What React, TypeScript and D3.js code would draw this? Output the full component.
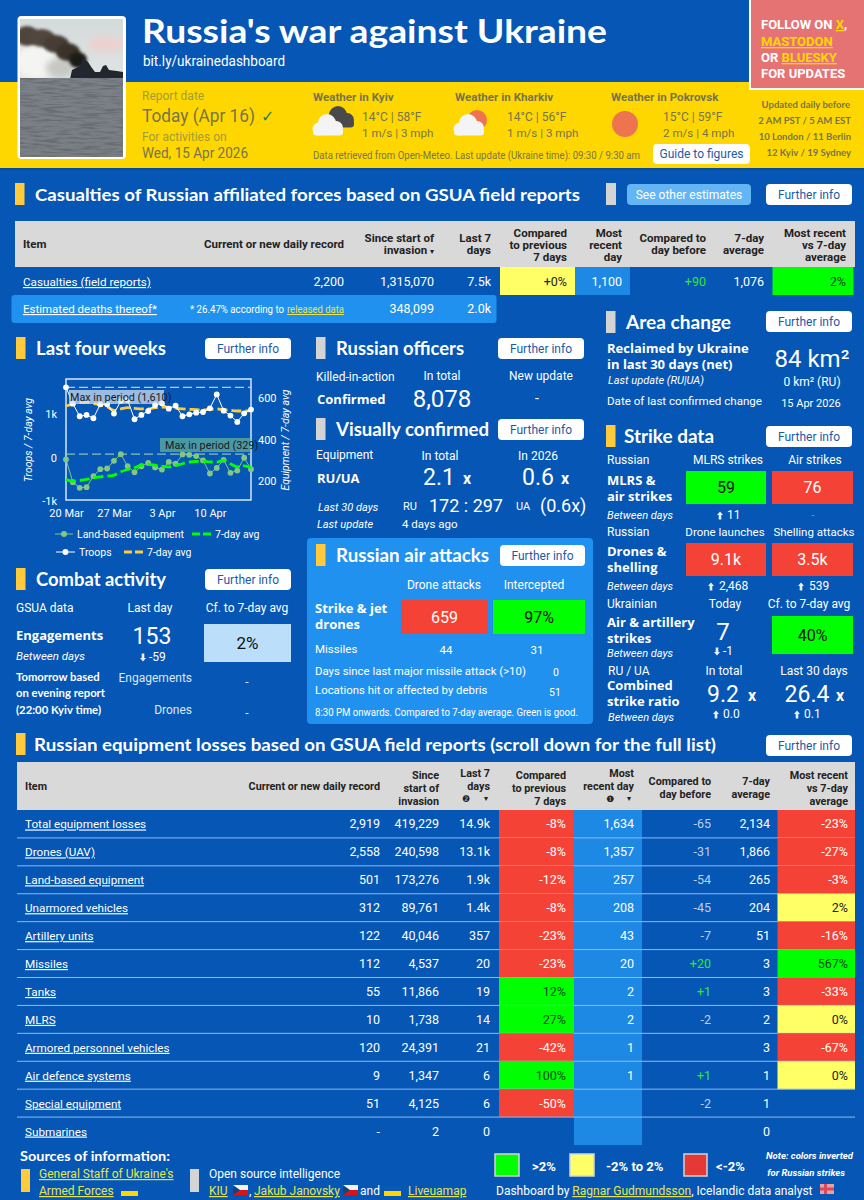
import { useRef, useEffect } from "react";
import * as d3 from "d3";

// ----- chart values
const troops = [1610, 1235, 947, 977, 902, 1220, 1220, 1008, 1295, 1318, 879, 977, 1068, 1205, 1243, 1121, 1189, 947, 992, 1030, 1045, 1129, 1447, 1076, 962, 818, 1015, 1100];
const troopsAvg = [1182, 1227, 1258, 1265, 1242, 1205, 1167, 1083, 1114, 1144, 1129, 1114, 1114, 1144, 1159, 1152, 1129, 1114, 1106, 1098, 1091, 1106, 1114, 1098, 1083, 1068, 1068, 1076];
const equipment = [304, 194, 167, 170, 223, 257, 260, 297, 329, 271, 242, 271, 287, 265, 255, 292, 283, 328, 326, 320, 299, 236, 263, 302, 239, 250, 312, 257];
const equipmentAvg = [206, 199, 202, 207, 215, 220, 223, 228, 244, 255, 264, 276, 280, 276, 270, 268, 275, 283, 291, 294, 295, 292, 291, 299, 283, 268, 273, 265];
const chartDates = d3.utcDay.range(new Date(Date.UTC(2026, 2, 20)), new Date(Date.UTC(2026, 3, 17)));
const dateTicks = [new Date(Date.UTC(2026, 2, 20)), new Date(Date.UTC(2026, 2, 27)), new Date(Date.UTC(2026, 3, 3)), new Date(Date.UTC(2026, 3, 10))];

// ----- equipment table
const items = ["Total equipment losses", "Drones (UAV)", "Land-based equipment", "Unarmored vehicles", "Artillery units", "Missiles", "Tanks", "MLRS", "Armored personnel vehicles", "Air defence systems", "Special equipment", "Submarines"];
const records = ["2,919", "2,558", "501", "312", "122", "112", "55", "10", "120", "9", "51", "-"];
const totals = ["419,229", "240,598", "173,276", "89,761", "40,046", "4,537", "11,866", "1,738", "24,391", "1,347", "4,125", "2"];
const last7 = ["14.9k", "13.1k", "1.9k", "1.4k", "357", "20", "19", "14", "21", "6", "6", "0"];
const cmpPrev = [-8, -8, -12, -8, -23, -23, 12, 27, -42, 100, -50, null];
const recent = ["1,634", "1,357", "257", "208", "43", "20", "2", "2", "1", "1", "", ""];
const dayDiff = [-65, -31, -54, -45, -7, 20, 1, -2, null, 1, -2, null];
const avg7 = ["2,134", "1,866", "265", "204", "51", "3", "3", "2", "3", "1", "1", "0"];
const cmpAvg = [-23, -27, -3, 2, -16, 567, -33, 0, -67, 0, null, null];

// ----- casualties table
const casualtyRow = { record: "2,200", total: "1,315,070", last7: "7.5k", cmp: "+0%", recent: "1,100", diff: "+90", avg: "1,076", vs: "2%" };

const BLUE = "#0556b5";
const YELLOW = "#ffd700";
const MARK_Y = "#ffcb3d";
const MARK_G = "#d4d4d4";
const RED = "#f44336";
const GREEN = "#00ff00";
const PALE = "#ffff66";
const PANEL = "#2191f0";
const HEAD = "Lato, 'Open Sans', sans-serif";
const SUB = "'Open Sans', sans-serif";
const BODY = "Roboto, sans-serif";
const INK = "#77744a";
const ON_GREEN = "#0b4a1a";

const cellColor = d3.scaleThreshold<number, string>().domain([-2, 2.001]).range([RED, PALE, GREEN]);
const cellInk = (v: number) => (v > 2 ? ON_GREEN : v < -2 ? "#fff" : "#222");

type TxProps = {
    x: number;
    y: number;
    s?: number;
    a?: "start" | "middle" | "end";
    w?: number;
    f?: string;
    fam?: string;
    it?: boolean;
    u?: boolean;
    len?: number;
    children: any;
};

const Tx = ({ x, y, s = 12, a = "start", w = 400, f = "#fff", fam = BODY, it, u, len, children }: TxProps) => (
    <text
        x={x}
        y={y}
        fontSize={s}
        textAnchor={a}
        fontWeight={w}
        fill={f}
        fontFamily={fam}
        fontStyle={it ? "italic" : undefined}
        textDecoration={u ? "underline" : undefined}
        textLength={len}
        lengthAdjust={len ? "spacingAndGlyphs" : undefined}
    >
        {children}
    </text>
);

const Sub = ({ x, y, children }: { x: number; y: number; children: any }) => (
    <Tx x={x} y={y} s={13} w={700} fam={SUB}>
        {children}
    </Tx>
);

const Btn = ({ x, y, w = 86, label = "Further info" }: { x: number; y: number; w?: number; label?: string }) => (
    <g>
        <rect x={x} y={y} width={w} height={21} rx={4} fill="#fff" />
        <Tx x={x + w / 2} y={y + 15} s={12} a="middle" f="#1c5aa8">
            {label}
        </Tx>
    </g>
);

const Section = ({ x, y, title, mark = MARK_Y, tx, s = 18, len }: { x: number; y: number; title: string; mark?: string; tx?: number; s?: number; len?: number }) => (
    <g>
        <rect x={x} y={y} width={9.5} height={22} fill={mark} />
        <Tx x={tx ?? x + 20} y={y + 18} s={s} w={700} fam={HEAD} len={len}>
            {title}
        </Tx>
    </g>
);

const Arrow = ({ x, y, up = true }: { x: number; y: number; up?: boolean }) => (
    <path
        transform={`translate(${x},${y})${up ? "" : " scale(1,-1)"}`}
        d="M0,-4.5 L3,-1 L1.3,-1 L1.3,3.5 L-1.3,3.5 L-1.3,-1 L-3,-1 Z"
        fill="#e8f0fa"
    />
);

const Cell = ({ x, y, w, h, fill, label, s = 16, dark }: { x: number; y: number; w: number; h: number; fill: string; label: string; s?: number; dark?: boolean }) => (
    <g>
        <rect x={x} y={y} width={w} height={h} fill={fill} />
        <Tx x={x + w / 2} y={y + h / 2 + s * 0.36} s={s} a="middle" f={dark ? "#111" : "#fff"}>
            {label}
        </Tx>
    </g>
);

const Cloud = ({ x, y, fill = "#f4f4f4" }: { x: number; y: number; fill?: string }) => (
    <g transform={`translate(${x},${y})`} fill={fill}>
        <circle cx={-9} cy={3} r={6.5} />
        <circle cx={-1} cy={-3} r={9} />
        <circle cx={8} cy={2} r={7} />
        <rect x={-15} y={2} width={30} height={7.5} rx={3.5} />
    </g>
);

const Flag = ({ x, y, kind }: { x: number; y: number; kind: "ua" | "cz" | "is" }) => {
    if (kind === "ua")
        return (
            <g>
                <rect x={x} y={y} width={17} height={4} fill="#0a57b5" />
                <rect x={x} y={y + 4} width={17} height={5} fill={YELLOW} />
            </g>
        );
    if (kind === "cz")
        return (
            <g>
                <rect x={x} y={y} width={15} height={5} fill="#f2f2f2" />
                <rect x={x} y={y + 5} width={15} height={5} fill="#d7141a" />
                <path d={`M${x},${y} L${x + 7},${y + 5} L${x},${y + 10} Z`} fill="#11457e" />
            </g>
        );
    return (
        <g>
            <rect x={x} y={y} width={14} height={10} fill="#e8a0a8" />
            <rect x={x + 4} y={y} width={3} height={10} fill="#d84a5a" />
            <rect x={x} y={y + 3.5} width={14} height={3} fill="#d84a5a" />
        </g>
    );
};

const Photo = () => (
    <g>
        <defs>
            <clipPath id="photoClip">
                <rect x={20} y={19} width={103} height={138} />
            </clipPath>
            <linearGradient id="sky" x1="0" y1="0" x2="0" y2="1">
                <stop offset="0" stopColor="#d4dbdb" />
                <stop offset="1" stopColor="#dfe3e3" />
            </linearGradient>
            <linearGradient id="sea" x1="0" y1="0" x2="0" y2="1">
                <stop offset="0" stopColor="#7b8189" />
                <stop offset="1" stopColor="#7a7f84" />
            </linearGradient>
            <filter id="soft" x="-30%" y="-30%" width="160%" height="160%">
                <feGaussianBlur stdDeviation="3" />
            </filter>
            <filter id="soft2" x="-30%" y="-30%" width="160%" height="160%">
                <feGaussianBlur stdDeviation="1.4" />
            </filter>
            <filter id="blur1">
                <feGaussianBlur stdDeviation="0.5" />
            </filter>
            <filter id="waves" x="0" y="0" width="1" height="1">
                <feTurbulence type="fractalNoise" baseFrequency="0.05 0.45" numOctaves="3" seed="7" />
                <feColorMatrix values="0 0 0 0 0.14  0 0 0 0 0.15  0 0 0 0 0.17  3.4 0 0 0 -1.45" />
            </filter>
        </defs>
        <rect x={17.5} y={16} width={108.5} height={143} rx={4} fill="#fff" />
        <g clipPath="url(#photoClip)">
            <rect x={20} y={19} width={103} height={60} fill="url(#sky)" />
            <ellipse cx={106} cy={44} rx={18} ry={8} fill="#ecd2cf" filter="url(#soft)" />
            <ellipse cx={36} cy={62} rx={22} ry={18} fill="#f4f4f2" filter="url(#soft)" />
            <ellipse cx={60} cy={68} rx={14} ry={10} fill="#c6c8c2" filter="url(#soft)" />
            <ellipse cx={27} cy={36} rx={12} ry={10} fill="#4f453d" filter="url(#soft2)" />
            <ellipse cx={42} cy={38} rx={13} ry={9} fill="#51473e" filter="url(#soft2)" />
            <ellipse cx={56} cy={44} rx={13} ry={9} fill="#473d35" filter="url(#soft2)" />
            <ellipse cx={68} cy={52} rx={12} ry={9} fill="#3a322c" filter="url(#soft2)" />
            <ellipse cx={78} cy={60} rx={9} ry={8} fill="#1c1a19" filter="url(#soft2)" />
            <path d="M70,79 L72,70 L80,66 L83,58 L88,62 L92,68 L95,72 L100,72 L103,66 L106,65 L109,70 L117,71 L123,72 L123,79 Z" fill="#23282e" filter="url(#blur1)" />
            <rect x={20} y={78} width={103} height={79} fill="url(#sea)" />
            <rect x={20} y={78} width={103} height={79} filter="url(#waves)" />
        </g>
    </g>
);

const margin = { top: 379, right: 251, bottom: 500, left: 66 };

const LastFourWeeks = () => {
    const ref = useRef<SVGGElement>(null);

    useEffect(() => {
        if (!ref.current) return;
        const g = d3.select(ref.current);
        g.selectAll("*").remove();

        const x = d3.scaleUtc().domain([chartDates[0], chartDates[chartDates.length - 1]]).range([margin.left, margin.right]);
        const yL = d3.scaleLinear().domain([-970, 1800]).range([margin.bottom, margin.top]);
        const yR = d3.scaleLinear().domain([108, 692]).range([margin.bottom, margin.top]);

        g.append("rect")
            .attr("x", margin.left)
            .attr("y", margin.top)
            .attr("width", margin.right - margin.left)
            .attr("height", margin.bottom - margin.top)
            .attr("fill", "none")
            .attr("stroke", "#d6e6fa")
            .attr("stroke-width", 1.5);

        const axL = g.append("g").attr("transform", `translate(${margin.left},0)`).call(
            d3.axisLeft(yL).tickValues([-1000, 0, 1000]).tickSize(0).tickPadding(9).tickFormat((d) => (+d === 0 ? "0" : `${+d / 1000}k`)),
        );
        const axR = g.append("g").attr("transform", `translate(${margin.right},0)`).call(
            d3.axisRight(yR).tickValues([200, 400, 600]).tickSize(0).tickPadding(7).tickFormat((d) => `${d}`),
        );
        const axB = g.append("g").attr("transform", `translate(0,${margin.bottom})`).call(
            d3.axisBottom(x).tickValues(dateTicks).tickSize(0).tickPadding(9).tickFormat((d) => d3.utcFormat("%-d %b")(d as Date)),
        );
        [axL, axR, axB].forEach((a) => {
            a.select(".domain").remove();
            a.selectAll("text").attr("fill", "#fff").attr("font-size", 11).attr("font-family", BODY);
        });

        // max lines and their tags
        const maxTroops = d3.max(troops)!;
        const maxEquip = d3.max(equipment)!;
        g.append("line")
            .attr("x1", margin.left).attr("x2", margin.right)
            .attr("y1", yL(maxTroops)).attr("y2", yL(maxTroops))
            .attr("stroke", "#a9cdf5").attr("stroke-width", 1.2).attr("stroke-dasharray", "9,4");
        g.append("line")
            .attr("x1", margin.left).attr("x2", margin.right)
            .attr("y1", yR(maxEquip)).attr("y2", yR(maxEquip))
            .attr("stroke", "#8fc0b0").attr("stroke-width", 1.2).attr("stroke-dasharray", "9,4");

        const drawSeries = (vals: number[], y: d3.ScaleLinear<number, number>, color: string, r: number) => {
            const line = d3.line<number>().x((_, i) => x(chartDates[i])).y((d) => y(d));
            g.append("path").attr("d", line(vals)).attr("fill", "none").attr("stroke", color).attr("stroke-width", 1);
            g.selectAll(null)
                .data(vals)
                .enter()
                .append("circle")
                .attr("cx", (_, i) => x(chartDates[i]))
                .attr("cy", (d) => y(d))
                .attr("r", r)
                .attr("fill", color);
        };
        const drawAvg = (vals: number[], y: d3.ScaleLinear<number, number>, color: string) => {
            const line = d3.line<number>().x((_, i) => x(chartDates[i])).y((d) => y(d)).curve(d3.curveMonotoneX);
            g.append("path")
                .attr("d", line(vals))
                .attr("fill", "none")
                .attr("stroke", color)
                .attr("stroke-width", 2.8)
                .attr("stroke-dasharray", "10,4");
        };

        drawAvg(troopsAvg, yL, MARK_Y);
        drawSeries(troops, yL, "#fff", 2.9);
        drawSeries(equipment, yR, "#82c784", 2.9);
        drawAvg(equipmentAvg, yR, GREEN);

        // tags sit over the marks, see-through like the original
        g.append("rect").attr("x", 69).attr("y", 390).attr("width", 95).attr("height", 14).attr("fill", "#d5e2f3").attr("opacity", 0.72);
        g.append("text").attr("x", 70).attr("y", 401).attr("font-size", 10.8).attr("font-family", BODY).attr("fill", "#1a1a1a").text(`Max in period (${d3.format(",")(maxTroops)})`);
        g.append("rect").attr("x", 160).attr("y", 438).attr("width", 91).attr("height", 14).attr("fill", "#76c29a").attr("opacity", 0.62);
        g.append("text").attr("x", 165).attr("y", 449).attr("font-size", 10.8).attr("font-family", BODY).attr("fill", "#1a1a1a").text(`Max in period (${maxEquip})`);
    }, []);

    return <g ref={ref} />;
};

const LegendRow = ({ x1, x2, y, color, dot, label }: { x1: number; x2: number; y: number; color: string; dot: boolean; label: string }) => (
    <g>
        {dot ? <line x1={x1} x2={x2} y1={y} y2={y} stroke={color} strokeWidth={1} /> : <line x1={x1} x2={x2} y1={y} y2={y} stroke={color} strokeWidth={2.8} strokeDasharray="8,3" />}
        {dot && <circle cx={(x1 + x2) / 2} cy={y} r={3} fill={color} />}
        <Tx x={x2 + 4} y={y + 4} s={10.5}>
            {label}
        </Tx>
    </g>
);

const EquipmentTable = () => {
    const y = d3.scaleBand<string>().domain(items).range([810, 1145]);
    const h = y.bandwidth();
    const hs = 10.8;
    return (
        <g>
            <rect x={17} y={762} width={838} height={48} fill="#d9d9d9" />
            <Tx x={25} y={790} s={hs} w={700} f="#222">Item</Tx>
            <Tx x={380} y={790} s={hs} w={700} f="#222" a="end">Current or new daily record</Tx>
            {["Since", "start of", "invasion"].map((t, i) => (
                <Tx key={t} x={439} y={779 + i * 13} s={hs} w={700} f="#222" a="end">{t}</Tx>
            ))}
            <Tx x={490} y={777} s={hs} w={700} f="#222" a="end">Last 7</Tx>
            <Tx x={490} y={790} s={hs} w={700} f="#222" a="end">days</Tx>
            <Tx x={462} y={802} s={9} f="#222" fam="DejaVu Sans">❷</Tx>
            <Tx x={484} y={801} s={8} f="#222" fam="DejaVu Sans">▾</Tx>
            {["Compared", "to previous", "7 days"].map((t, i) => (
                <Tx key={t} x={566} y={779 + i * 13} s={hs} w={700} f="#222" a="end">{t}</Tx>
            ))}
            <Tx x={634} y={777} s={hs} w={700} f="#222" a="end">Most</Tx>
            <Tx x={634} y={790} s={hs} w={700} f="#222" a="end">recent day</Tx>
            <Tx x={606} y={802} s={9} f="#222" fam="DejaVu Sans">❶</Tx>
            <Tx x={627} y={801} s={8} f="#222" fam="DejaVu Sans">▾</Tx>
            {["Compared to", "day before"].map((t, i) => (
                <Tx key={t} x={711} y={785 + i * 13} s={hs} w={700} f="#222" a="end">{t}</Tx>
            ))}
            {["7-day", "average"].map((t, i) => (
                <Tx key={t} x={770} y={785 + i * 13} s={hs} w={700} f="#222" a="end">{t}</Tx>
            ))}
            {["Most recent", "vs 7-day", "average"].map((t, i) => (
                <Tx key={t} x={848} y={779 + i * 13} s={hs} w={700} f="#222" a="end">{t}</Tx>
            ))}
            <rect x={574} y={810} width={68} height={335} fill="#1e88e5" />
            {items.map((name, i) => {
                const top = y(name)!;
                const base = top + h / 2 + 4.5;
                const a = cmpPrev[i];
                const b = cmpAvg[i];
                const d = dayDiff[i];
                return (
                    <g key={name}>
                        {a !== null && <rect x={499} y={top} width={75} height={h} fill={cellColor(a)} />}
                        {b !== null && <rect x={777.5} y={top} width={77.5} height={h} fill={cellColor(b)} />}
                        {i < items.length - 1 && <line x1={17} x2={855} y1={top + h} y2={top + h} stroke="#8dbcf0" strokeWidth={1} />}
                        <Tx x={25} y={base} s={11.7} u>{name}</Tx>
                        <Tx x={380} y={base} s={12.5} a="end">{records[i]}</Tx>
                        <Tx x={439} y={base} s={12.5} a="end">{totals[i]}</Tx>
                        <Tx x={490} y={base} s={12.5} a="end">{last7[i]}</Tx>
                        {a !== null && <Tx x={566} y={base} s={12.5} a="end" f={cellInk(a)}>{`${a}%`}</Tx>}
                        <Tx x={634} y={base} s={12.5} a="end">{recent[i]}</Tx>
                        {d !== null && <Tx x={711} y={base} s={12.5} a="end" f={d > 0 ? "#2fe82f" : "#bcd0ec"}>{d > 0 ? `+${d}` : d}</Tx>}
                        <Tx x={770} y={base} s={12.5} a="end">{avg7[i]}</Tx>
                        {b !== null && <Tx x={848} y={base} s={12.5} a="end" f={cellInk(b)}>{`${b}%`}</Tx>}
                    </g>
                );
            })}
        </g>
    );
};

const CasualtyTable = () => (
    <g>
        <rect x={15} y={221} width={840} height={46} fill="#d9d9d9" />
        <Tx x={23} y={248} s={11.5} w={700} f="#222">Item</Tx>
        <Tx x={344} y={248} s={11.5} w={700} f="#222" a="end">Current or new daily record</Tx>
        <Tx x={434} y={242} s={11.5} w={700} f="#222" a="end">Since start of</Tx>
        <Tx x={434} y={254} s={11.5} w={700} f="#222" a="end">invasion <tspan fontSize={8} fontFamily="DejaVu Sans">▾</tspan></Tx>
        <Tx x={491} y={242} s={11.5} w={700} f="#222" a="end">Last 7</Tx>
        <Tx x={491} y={254} s={11.5} w={700} f="#222" a="end">days</Tx>
        {["Compared", "to previous", "7 days"].map((t, i) => (
            <Tx key={t} x={567} y={237 + i * 12} s={11.5} w={700} f="#222" a="end">{t}</Tx>
        ))}
        {["Most", "recent", "day"].map((t, i) => (
            <Tx key={t} x={622} y={237 + i * 12} s={11.5} w={700} f="#222" a="end">{t}</Tx>
        ))}
        {["Compared to", "day before"].map((t, i) => (
            <Tx key={t} x={706} y={242 + i * 12} s={11.5} w={700} f="#222" a="end">{t}</Tx>
        ))}
        {["7-day", "average"].map((t, i) => (
            <Tx key={t} x={764} y={242 + i * 12} s={11.5} w={700} f="#222" a="end">{t}</Tx>
        ))}
        {["Most recent", "vs 7-day", "average"].map((t, i) => (
            <Tx key={t} x={846} y={237 + i * 12} s={11.5} w={700} f="#222" a="end">{t}</Tx>
        ))}
        <rect x={500} y={267} width={75} height={28} fill={PALE} />
        <rect x={575} y={267} width={55} height={28} fill="#1e88e5" />
        <rect x={772.5} y={267} width={81} height={28} fill={GREEN} />
        <Tx x={23} y={286} s={11.7} u>Casualties (field reports)</Tx>
        <Tx x={344} y={286} s={12.5} a="end">{casualtyRow.record}</Tx>
        <Tx x={434} y={286} s={12.5} a="end">{casualtyRow.total}</Tx>
        <Tx x={491} y={286} s={12.5} a="end">{casualtyRow.last7}</Tx>
        <Tx x={567} y={286} s={12.5} a="end" f="#222">{casualtyRow.cmp}</Tx>
        <Tx x={622} y={286} s={12.5} a="end">{casualtyRow.recent}</Tx>
        <Tx x={706} y={286} s={12.5} a="end" f="#2fe82f">{casualtyRow.diff}</Tx>
        <Tx x={764} y={286} s={12.5} a="end">{casualtyRow.avg}</Tx>
        <Tx x={846} y={286} s={12.5} a="end" f={ON_GREEN}>{casualtyRow.vs}</Tx>
        <rect x={11.5} y={295} width={485} height={28} rx={3} fill={PANEL} />
        <Tx x={23} y={313} s={11.5} u>Estimated deaths thereof*</Tx>
        <Tx x={190} y={313} s={10} len={94}>* 26.47% according to</Tx>
        <Tx x={287} y={313} s={10} u f="#e6e64a" len={57}>released data</Tx>
        <Tx x={434} y={313} s={12.5} a="end">348,099</Tx>
        <Tx x={491} y={313} s={12.5} a="end">2.0k</Tx>
    </g>
);

export default function App() {
    return (
        <svg
            width={864}
            height={1200}
            viewBox="0 0 864 1200"
            style={{ position: "absolute", left: 0, top: 0, display: "block" }}
        >
            <rect width={864} height={1200} fill={BLUE} />

            {/* top banner */}
            <rect y={82} width={864} height={86} fill={YELLOW} />
            <rect y={168} width={864} height={2} fill="#0b4a99" />
            <Photo />
            <Tx x={142} y={43} s={33} w={700} fam={HEAD} len={465}>Russia's war against Ukraine</Tx>
            <Tx x={143} y={66} s={14} len={142}>bit.ly/ukrainedashboard</Tx>

            <rect x={749} y={-2} width={117} height={92} fill="#fff" />
            <rect x={751} y={-2} width={115} height={90} fill="#e57373" />
            <Tx x={761} y={29} s={13} w={700} f="#fff">FOLLOW ON <tspan fill={YELLOW} textDecoration="underline">X</tspan>,</Tx>
            <Tx x={761} y={46} s={13} w={700} f={YELLOW} u>MASTODON</Tx>
            <Tx x={761} y={62} s={13} w={700}>OR <tspan fill={YELLOW} textDecoration="underline">BLUESKY</tspan></Tx>
            <Tx x={761} y={78} s={13} w={700}>FOR UPDATES</Tx>

            <Tx x={142} y={100} s={12} f="#a49a3a">Report date</Tx>
            <Tx x={142} y={122} s={18} f={INK} len={113}>Today (Apr 16)</Tx>
            <Tx x={261} y={122} s={16} f="#2e7d60" fam="DejaVu Sans">✓</Tx>
            <Tx x={142} y={141} s={12} f="#a49a3a">For activities on</Tx>
            <Tx x={142} y={158} s={14} f={INK} len={106}>Wed, 15 Apr 2026</Tx>

            <Tx x={313} y={101} s={11.6} w={700} f={INK}>Weather in Kyiv</Tx>
            <Tx x={455} y={101} s={11.6} w={700} f={INK}>Weather in Kharkiv</Tx>
            <Tx x={611} y={101} s={11.6} w={700} f={INK}>Weather in Pokrovsk</Tx>
            <Tx x={362} y={121} s={12} f={INK}>14°C | 58°F</Tx>
            <Tx x={362} y={137} s={11.6} f={INK}>1 m/s | 3 mph</Tx>
            <Tx x={507} y={121} s={12} f={INK}>14°C | 56°F</Tx>
            <Tx x={507} y={137} s={11.6} f={INK}>1 m/s | 3 mph</Tx>
            <Tx x={663} y={121} s={12} f={INK}>15°C | 59°F</Tx>
            <Tx x={663} y={137} s={11.6} f={INK}>2 m/s | 4 mph</Tx>
            <Cloud x={339} y={118} fill="#4a4a4a" />
            <Cloud x={328} y={126} />
            <circle cx={477} cy={120} r={10} fill="#ee7350" />
            <Cloud x={469} y={126} />
            <circle cx={625} cy={124} r={13} fill="#ee7350" />
            <Tx x={313} y={159} s={10.4} f={INK} len={327}>Data retrieved from Open-Meteo. Last update (Ukraine time): 09:30 / 9:30 am</Tx>
            <rect x={653} y={144} width={97} height={20} rx={4} fill="#fff" />
            <Tx x={701.5} y={158} s={12} a="middle" f="#1c5aa8">Guide to figures</Tx>

            <Tx x={850} y={108} s={9.5} w={700} f={INK} fam={HEAD} a="end">Updated daily before</Tx>
            <Tx x={851} y={124} s={9.5} w={700} f={INK} fam={HEAD} a="end">2 AM PST / 5 AM EST</Tx>
            <Tx x={851} y={140} s={9.5} w={700} f={INK} fam={HEAD} a="end">10 London / 11 Berlin</Tx>
            <Tx x={851} y={156} s={9.5} w={700} f={INK} fam={HEAD} a="end">12 Kyiv / 19 Sydney</Tx>

            {/* casualties */}
            <Section x={15} y={183} tx={35} s={17} len={545} title="Casualties of Russian affiliated forces based on GSUA field reports" />
            <rect x={606} y={183} width={10} height={22} fill={MARK_G} />
            <rect x={627} y={184} width={124} height={21} rx={4} fill="#64b5f6" />
            <Tx x={689} y={199} s={12} a="middle">See other estimates</Tx>
            <Btn x={766} y={184} />
            <CasualtyTable />

            {/* left column */}
            <Section x={16} y={337} title="Last four weeks" len={130} />
            <Btn x={205} y={338} />
            <LastFourWeeks />
            <g transform="translate(32,440) rotate(-90)">
                <Tx x={0} y={0} s={10.5} a="middle" it>Troops / 7-day avg</Tx>
            </g>
            <g transform="translate(289,440) rotate(-90)">
                <Tx x={0} y={0} s={10.5} a="middle" it>Equipment / 7-day avg</Tx>
            </g>
            <LegendRow x1={55} x2={73} y={534} color="#82c784" dot label="Land-based equipment" />
            <LegendRow x1={192} x2={211} y={534} color={GREEN} dot={false} label="7-day avg" />
            <LegendRow x1={56} x2={75} y={552} color="#fff" dot label="Troops" />
            <LegendRow x1={124} x2={143} y={552} color={MARK_Y} dot={false} label="7-day avg" />

            <Section x={16} y={568} title="Combat activity" len={130} />
            <Btn x={205} y={569} />
            <Tx x={16} y={612} s={12}>GSUA data</Tx>
            <Tx x={150} y={612} s={12} a="middle">Last day</Tx>
            <Tx x={247} y={612} s={12} a="middle">Cf. to 7-day avg</Tx>
            <Sub x={16} y={640}>Engagements</Sub>
            <Tx x={16} y={660} s={11.5} it>Between days</Tx>
            <Tx x={152} y={644} s={23} a="middle">153</Tx>
            <Arrow x={143} y={657} up={false} />
            <Tx x={149} y={661} s={12}>-59</Tx>
            <Cell x={204} y={624} w={87} h={38} fill="#bbdefb" label="2%" s={17} dark />
            <Tx x={16} y={681} s={11.3} w={700} fam={HEAD}>Tomorrow based</Tx>
            <Tx x={16} y={697} s={11.3} w={700} fam={HEAD}>on evening report</Tx>
            <Tx x={16} y={714} s={11.3} w={700} fam={HEAD}>(22:00 Kyiv time)</Tx>
            <Tx x={192} y={682} s={12} a="end" f="#dbe8f8">Engagements</Tx>
            <Tx x={192} y={714} s={12} a="end" f="#dbe8f8">Drones</Tx>
            <Tx x={247} y={686} s={12} a="middle" f="#dbe8f8">-</Tx>
            <Tx x={247} y={717} s={12} a="middle" f="#dbe8f8">-</Tx>

            {/* middle column */}
            <Section x={316} y={337} title="Russian officers" mark={MARK_G} len={128} />
            <Btn x={498} y={338} />
            <Tx x={316} y={381} s={12}>Killed-in-action</Tx>
            <Tx x={442} y={380} s={12} a="middle">In total</Tx>
            <Tx x={541} y={380} s={12} a="middle">New update</Tx>
            <Sub x={317} y={404}>Confirmed</Sub>
            <Tx x={442} y={407} s={24} a="middle">8,078</Tx>
            <Tx x={537} y={403} s={14} a="middle">-</Tx>

            <Section x={316} y={418} title="Visually confirmed" mark={MARK_G} len={153} />
            <Btn x={498} y={419} />
            <Tx x={316} y={459} s={12}>Equipment</Tx>
            <Tx x={440} y={460} s={12} a="middle">In total</Tx>
            <Tx x={538} y={460} s={12} a="middle">In 2026</Tx>
            <Sub x={317} y={483}>RU/UA</Sub>
            <Tx x={439} y={485} s={23} a="middle">2.1</Tx>
            <Tx x={467} y={484} s={16} w={700} a="middle">x</Tx>
            <Tx x={538} y={485} s={23} a="middle">0.6</Tx>
            <Tx x={565} y={484} s={16} w={700} a="middle">x</Tx>
            <Tx x={318} y={511} s={11} it>Last 30 days</Tx>
            <Tx x={403} y={510} s={11}>RU</Tx>
            <Tx x={466} y={512} s={18} a="middle">172 : 297</Tx>
            <Tx x={516} y={510} s={11}>UA</Tx>
            <Tx x={540} y={512} s={18}>(0.6x)</Tx>
            <Tx x={317} y={528} s={11} it>Last update</Tx>
            <Tx x={402} y={528} s={11.5}>4 days ago</Tx>

            <rect x={307} y={538} width={286} height={186} rx={4} fill={PANEL} />
            <Section x={316} y={544} title="Russian air attacks" len={153} />
            <Btn x={500} y={545} w={85} />
            <Tx x={444} y={589} s={12} a="middle">Drone attacks</Tx>
            <Tx x={534} y={589} s={12} a="middle">Intercepted</Tx>
            <Sub x={315} y={613}>Strike &amp; jet</Sub>
            <Sub x={315} y={629}>drones</Sub>
            <Cell x={401} y={600} w={87} h={34} fill={RED} label="659" />
            <Cell x={493} y={600} w={92} h={34} fill={GREEN} label="97%" dark />
            <Tx x={315} y={653} s={11.5}>Missiles</Tx>
            <Tx x={446} y={654} s={11.5} a="middle">44</Tx>
            <Tx x={537} y={654} s={11.5} a="middle">31</Tx>
            <Tx x={315} y={675} s={11.4}>Days since last major missile attack (&gt;10)</Tx>
            <Tx x={556} y={676} s={10.5} a="middle">0</Tx>
            <Tx x={315} y={694} s={11.4}>Locations hit or affected by debris</Tx>
            <Tx x={555} y={696} s={10.5} a="middle">51</Tx>
            <Tx x={315} y={716} s={10.4} len={263}>8:30 PM onwards. Compared to 7-day average. Green is good.</Tx>

            {/* right column */}
            <Section x={606} y={311} title="Area change" mark={MARK_G} len={105} />
            <Btn x={766} y={311} />
            <Sub x={607} y={353}>Reclaimed by Ukraine</Sub>
            <Sub x={607} y={369}>in last 30 days (net)</Sub>
            <Tx x={812} y={367} s={24} a="middle">84 km²</Tx>
            <Tx x={608} y={384} s={11} it>Last update (RU|UA)</Tx>
            <Tx x={812} y={386} s={12} a="middle">0 km² (RU)</Tx>
            <Tx x={607} y={405} s={11.6}>Date of last confirmed change</Tx>
            <Tx x={811} y={407} s={11} a="middle">15 Apr 2026</Tx>

            <Section x={606} y={425} tx={624} title="Strike data" len={90} />
            <Btn x={766} y={426} />
            <Tx x={607} y={464} s={12}>Russian</Tx>
            <Tx x={728} y={464} s={12} a="middle">MLRS strikes</Tx>
            <Tx x={815} y={464} s={12} a="middle">Air strikes</Tx>
            <Sub x={607} y={485}>MLRS &amp;</Sub>
            <Sub x={607} y={501}>air strikes</Sub>
            <Cell x={686} y={471} w={80} h={33} fill={GREEN} label="59" dark />
            <Cell x={772} y={471} w={81} h={33} fill={RED} label="76" />
            <Tx x={607} y={519} s={11} it>Between days</Tx>
            <Arrow x={720} y={516} />
            <Tx x={727} y={519} s={12}>11</Tx>
            <Tx x={813} y={519} s={10} a="middle" f="#6da2dd">-</Tx>

            <Tx x={607} y={536} s={12}>Russian</Tx>
            <Tx x={725} y={536} s={11.5} a="middle">Drone launches</Tx>
            <Tx x={814} y={536} s={11.5} a="middle">Shelling attacks</Tx>
            <Sub x={607} y={556}>Drones &amp;</Sub>
            <Sub x={607} y={572}>shelling</Sub>
            <Cell x={686} y={543} w={80} h={33} fill={RED} label="9.1k" />
            <Cell x={772} y={543} w={81} h={33} fill={RED} label="3.5k" />
            <Tx x={607} y={590} s={11} it>Between days</Tx>
            <Arrow x={711} y={587} />
            <Tx x={719} y={590} s={12}>2,468</Tx>
            <Arrow x={801} y={587} />
            <Tx x={809} y={590} s={12}>539</Tx>

            <Tx x={607} y={608} s={12}>Ukrainian</Tx>
            <Tx x={725} y={608} s={12} a="middle">Today</Tx>
            <Tx x={809} y={608} s={12} a="middle">Cf. to 7-day avg</Tx>
            <Sub x={607} y={627}>Air &amp; artillery</Sub>
            <Sub x={607} y={643}>strikes</Sub>
            <Tx x={723} y={640} s={24} a="middle">7</Tx>
            <Cell x={772} y={616} w={81} h={38} fill={GREEN} label="40%" dark />
            <Tx x={607} y={657} s={11} it>Between days</Tx>
            <Arrow x={717} y={651} up={false} />
            <Tx x={723} y={655} s={12}>-1</Tx>

            <Tx x={608} y={675} s={12}>RU / UA</Tx>
            <Tx x={724} y={675} s={12} a="middle">In total</Tx>
            <Tx x={814} y={675} s={12} a="middle">Last 30 days</Tx>
            <Sub x={607} y={690}>Combined</Sub>
            <Sub x={607} y={706}>strike ratio</Sub>
            <Tx x={723} y={702} s={23} a="middle">9.2</Tx>
            <Tx x={752} y={701} s={16} w={700} a="middle">x</Tx>
            <Tx x={807} y={702} s={23} a="middle">26.4</Tx>
            <Tx x={840} y={701} s={16} w={700} a="middle">x</Tx>
            <Tx x={608} y={721} s={11} it>Between days</Tx>
            <Arrow x={716} y={715} />
            <Tx x={723} y={718} s={12}>0.0</Tx>
            <Arrow x={797} y={715} />
            <Tx x={804} y={718} s={12}>0.1</Tx>

            {/* equipment table */}
            <Section x={16} y={733} tx={34} s={16.5} len={682} title="Russian equipment losses based on GSUA field reports (scroll down for the full list)" />
            <Btn x={766} y={735} />
            <EquipmentTable />

            {/* footer */}
            <Tx x={20} y={1161} s={14} w={700} fam={HEAD} len={150}>Sources of information:</Tx>
            <rect x={21} y={1169} width={9} height={23} fill={MARK_Y} />
            <Tx x={39} y={1178} s={12} u f="#e6e64a">General Staff of Ukraine's</Tx>
            <Tx x={39} y={1195} s={12} u f="#e6e64a">Armed Forces</Tx>
            <Flag x={121} y={1187} kind="ua" />
            <rect x={190} y={1169} width={9} height={23} fill={MARK_G} />
            <Tx x={209} y={1178} s={12}>Open source intelligence</Tx>
            <Tx x={209} y={1195} s={12}><tspan fill="#e6e64a" textDecoration="underline">KIU</tspan></Tx>
            <Flag x={233} y={1185} kind="cz" />
            <Tx x={249} y={1195} s={12}>,</Tx>
            <Tx x={254} y={1195} s={12} u f="#e6e64a">Jakub Janovsky</Tx>
            <Flag x={343} y={1185} kind="cz" />
            <Tx x={360} y={1195} s={12}>and</Tx>
            <Flag x={384} y={1187} kind="ua" />
            <Tx x={408} y={1195} s={12} u f="#e6e64a">Liveuamap</Tx>

            <rect x={495} y={1154} width={24} height={22} fill={GREEN} stroke="#d4d4d4" strokeWidth={1.5} />
            <Tx x={532} y={1171} s={13} w={700}>&gt;2%</Tx>
            <rect x={570} y={1154} width={24} height={22} fill={PALE} stroke="#d4d4d4" strokeWidth={1.5} />
            <Tx x={606} y={1171} s={13} w={700}>-2% to 2%</Tx>
            <rect x={684} y={1154} width={23} height={22} fill="#e53935" stroke="#d4d4d4" strokeWidth={1.5} />
            <Tx x={716} y={1171} s={13} w={700}>&lt;-2%</Tx>
            <Tx x={853} y={1159} s={9.5} it w={700} a="end">Note: colors inverted</Tx>
            <Tx x={845} y={1176} s={9.5} it w={700} a="end">for Russian strikes</Tx>
            <Tx x={496} y={1195} s={12}>Dashboard by <tspan fill="#e6e64a" textDecoration="underline">Ragnar Gudmundsson</tspan>, Icelandic data analyst</Tx>
            <Flag x={820} y={1184} kind="is" />
        </svg>
    );
}
